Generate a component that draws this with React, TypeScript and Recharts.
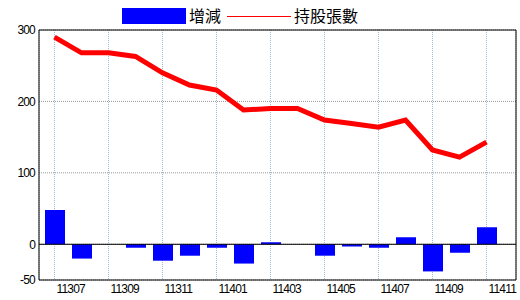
import React from 'react';
import {
  ComposedChart,
  Bar,
  Line,
  XAxis,
  YAxis,
  CartesianGrid,
  ReferenceLine,
  Legend,
} from 'recharts';

const months = [
  '11307', '11308', '11309', '11310', '11311', '11312', '11401', '11402', '11403',
  '11404', '11405', '11406', '11407', '11408', '11409', '11410', '11411',
];
const changes = [48, -20, 0, -5, -23, -16, -5, -27, 3, 0, -16, -3, -5, 10, -38, -12, 24];
const holdings = [290, 268, 268, 263, 240, 223, 216, 188, 190, 190, 174, 169, 164, 174, 132, 122, 143];
const yTicks = [-50, 0, 100, 200, 300];
const seriesNames = { bar: '增減', line: '持股張數' };

const data = months.map((m, i) => ({ month: m, change: changes[i], holding: holdings[i] }));

const tickFont = "'Liberation Sans', Arial, sans-serif";
const cjkFont = "'Noto Sans CJK TC', 'Noto Sans CJK SC', sans-serif";

const LegendContent = () => (
  <div
    style={{
      display: 'flex',
      alignItems: 'center',
      height: 30,
      paddingLeft: 122,
      boxSizing: 'border-box',
      fontFamily: cjkFont,
      fontSize: 16,
      color: '#000',
      lineHeight: '16px',
    }}
  >
    <span style={{ display: 'inline-block', width: 64, height: 16, background: '#0000ff', marginTop: 2 }} />
    <span style={{ marginLeft: 3 }}>{seriesNames.bar}</span>
    <span style={{ display: 'inline-block', width: 64, height: 1, background: '#ff0000', marginLeft: 6, marginTop: 2 }} />
    <span style={{ marginLeft: 3 }}>{seriesNames.line}</span>
  </div>
);

const tickStyle = { fill: '#000', fontSize: 12, fontFamily: tickFont, letterSpacing: -0.8 };

export default function App() {
  return (
    <div style={{ position: 'absolute', left: 0, top: 0, width: 520, height: 300, background: '#fff' }}>
      <ComposedChart
        width={520}
        height={300}
        data={data}
        margin={{ top: 30, right: 0, bottom: 0, left: 0 }}
      >
        <CartesianGrid horizontal={true} vertical={false} stroke="#999999" strokeDasharray="1 1" />
        <CartesianGrid horizontal={false} vertical={true} stroke="#9bbccc" strokeDasharray="1 1" />
        <XAxis
          dataKey="month"
          interval={1}
          padding={{ left: 2, right: 16 }}
          height={20}
          tickLine={false}
          tickSize={0}
          tickMargin={4}
          axisLine={{ stroke: '#000', strokeWidth: 1 }}
          tick={{ ...tickStyle, textAnchor: 'start', dx: 2 }}
        />
        <YAxis
          domain={[-50, 300]}
          ticks={yTicks}
          width={39}
          tickLine={false}
          tickSize={0}
          tickMargin={4}
          axisLine={{ stroke: '#000', strokeWidth: 1 }}
          tick={tickStyle}
          allowDataOverflow
        />
        <YAxis
          yAxisId="r"
          orientation="right"
          domain={[-50, 300]}
          width={4}
          tick={false}
          tickLine={false}
          axisLine={{ stroke: '#000', strokeWidth: 1 }}
        />
        <ReferenceLine y={300} stroke="#000" strokeWidth={1} />
        <ReferenceLine y={0} stroke="#000" strokeWidth={1} />
        <Bar dataKey="change" name={seriesNames.bar} fill="#0000ff" barSize={20} isAnimationActive={false} />
        <Line
          dataKey="holding"
          name={seriesNames.line}
          type="linear"
          stroke="#ff0000"
          strokeWidth={5}
          dot={false}
          activeDot={false}
          isAnimationActive={false}
        />
        <Legend
          layout="horizontal"
          verticalAlign="middle"
          align="center"
          wrapperStyle={{ top: 0, left: 0, width: 520, height: 30 }}
          content={<LegendContent />}
        />
      </ComposedChart>
    </div>
  );
}
